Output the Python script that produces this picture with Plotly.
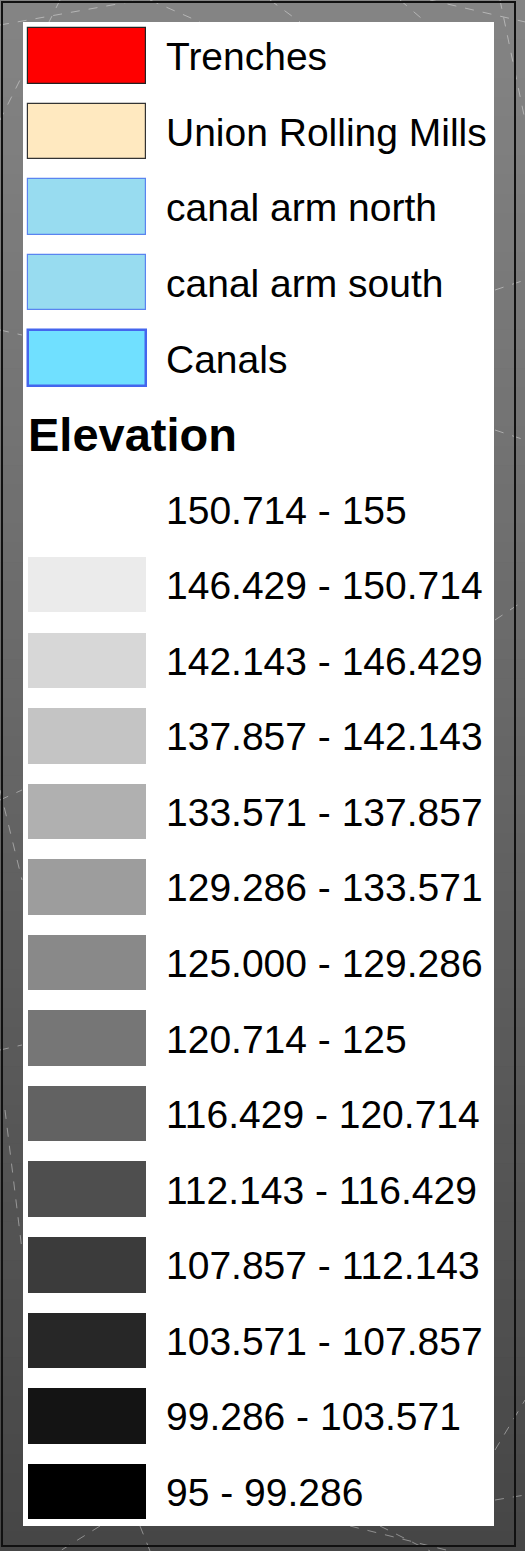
import plotly.graph_objects as go

# ---- data ----
layer_names = ["Trenches", "Union Rolling Mills", "canal arm north", "canal arm south", "Canals"]
layer_fills = ["#ff0000", "#ffe9c0", "#98dcf0", "#98dcf0", "#70e0ff"]
layer_borders = ["#222222", "#333333", "#5a84f0", "#5a84f0", "#4466ee"]
layer_border_widths = [1.2, 1.2, 1.2, 1.2, 2.5]

elev_title = "Elevation"
elev_labels = ["150.714 - 155", "146.429 - 150.714", "142.143 - 146.429", "137.857 - 142.143",
               "133.571 - 137.857", "129.286 - 133.571", "125.000 - 129.286", "120.714 - 125",
               "116.429 - 120.714", "112.143 - 116.429", "107.857 - 112.143", "103.571 - 107.857",
               "99.286 - 103.571", "95 - 99.286"]
elev_fills = ["#ffffff", "#ebebeb", "#d7d7d7", "#c4c4c4", "#b0b0b0", "#9d9d9d", "#898989",
              "#767676", "#626262", "#4e4e4e", "#3b3b3b", "#272727", "#141414", "#000000"]

# ---- build ----
W, H = 525, 1551
rows = layer_names + [elev_title] + elev_labels
fills = layer_fills + ["rgba(0,0,0,0)"] + elev_fills
borders = layer_borders + ["rgba(0,0,0,0)"] + ["rgba(0,0,0,0)"] * len(elev_labels)
bwidths = layer_border_widths + [0] + [0] * len(elev_labels)
lengths = [1] * len(layer_names) + [0] + [1] * len(elev_labels)

# pixel mapping (layout): swatch from px 28 to 146, row pitch 75.56, first row center 55.8
sw_left, sw_w = 28, 118
x0 = -sw_left / sw_w
x1 = x0 + W / sw_w
pitch, first = 75.56, 55.8
y_top = -first / pitch
y_bot = y_top + H / pitch
label_x = (164 - sw_left) / sw_w
title_x = (26 - sw_left) / sw_w

FONT = "Liberation Sans, Arial, Helvetica, sans-serif"

fig = go.Figure()
fig.add_trace(go.Bar(
    y=rows, x=lengths, base=0, orientation="h", width=55.5 / pitch,
    marker=dict(color=fills, line=dict(color=borders, width=bwidths)),
    hoverinfo="skip", showlegend=False,
))

annotations = []
for name in layer_names + elev_labels:
    annotations.append(dict(x=label_x, y=name, xref="x", yref="y", text=name, showarrow=False,
                            xanchor="left", yanchor="middle", yshift=-1,
                            font=dict(family=FONT, size=39, color="#000000")))
annotations.append(dict(x=title_x, y=elev_title, xref="x", yref="y", text="<b>" + elev_title + "</b>",
                        showarrow=False, xanchor="left", yanchor="middle", yshift=-1,
                        font=dict(family=FONT, size=47, color="#000000")))

# background: map-like grey gradient
shapes = []
n = 80
top_c, bot_c = 0x84, 0x46
for i in range(n):
    v = int(round(top_c + (bot_c - top_c) * i / (n - 1)))
    c = f"rgb({v},{v},{v})"
    shapes.append(dict(type="rect", xref="paper", yref="paper", layer="below",
                       x0=0, x1=1, y0=1 - (i + 1) / n - 0.001, y1=1 - i / n,
                       fillcolor=c, line=dict(width=0)))
# faint triangulation lines
tin = [(0, 25, 140, 0), (60, 0, 0, 120), (400, 0, 470, 60), (430, 0, 560, 30), (500, 0, 525, 120),
       (495, 290, 525, 280), (495, 620, 525, 600), (0, 800, 22, 790), (0, 790, 22, 880),
       (0, 1050, 22, 1045), (5, 1110, 22, 1250), (495, 1450, 525, 1400), (495, 1500, 525, 1495),
       (100, 1526, 60, 1551), (140, 1526, 150, 1551), (350, 1526, 450, 1551), (380, 1526, 430, 1551),
       (0, 330, 22, 335), (495, 430, 525, 440), (150, 0, 200, 22), (270, 0, 300, 22)]
for (ax, ay, bx, by) in tin:
    shapes.append(dict(type="line", xref="paper", yref="paper", layer="below",
                       x0=ax / W, y0=1 - ay / H, x1=bx / W, y1=1 - by / H,
                       line=dict(color="rgba(255,255,255,0.4)", width=1, dash="dash")))
# map frame
shapes.append(dict(type="rect", xref="paper", yref="paper", layer="below",
                   x0=2 / W, x1=515 / W, y0=1 - 1546 / H, y1=1 - 2 / H,
                   line=dict(color="#111111", width=2)))
# white legend panel
shapes.append(dict(type="rect", xref="paper", yref="paper", layer="below",
                   x0=23 / W, x1=494 / W, y0=1 - 1526 / H, y1=1 - 22 / H,
                   fillcolor="#ffffff", line=dict(width=0)))

fig.update_layout(
    width=W, height=H, margin=dict(l=0, r=0, t=0, b=0),
    paper_bgcolor="#666666", plot_bgcolor="rgba(0,0,0,0)",
    xaxis=dict(range=[x0, x1], visible=False, fixedrange=True),
    yaxis=dict(type="category", categoryorder="array", categoryarray=rows,
               range=[y_bot, y_top], visible=False, fixedrange=True),
    shapes=shapes, annotations=annotations, bargap=0,
)
fig.write_html("out.html", config=dict(displayModeBar=False),
               post_script="document.body.style.margin='0px';document.body.style.overflow='hidden';")
